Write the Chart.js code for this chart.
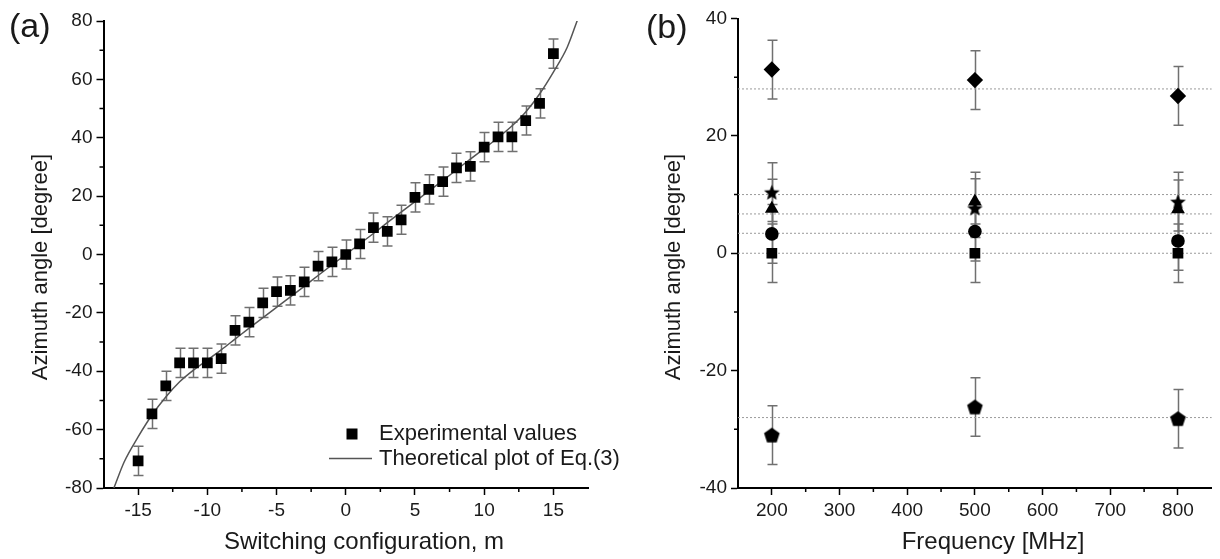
<!DOCTYPE html>
<html>
<head>
<meta charset="utf-8">
<script src="https://cdn.jsdelivr.net/npm/chart.js@4.4.1/dist/chart.umd.min.js"></script>
<style>
  html, body { margin: 0; padding: 0; background: #fff; }
  #wrap { position: relative; width: 1220px; height: 559px; overflow: hidden; }
  #boxA { position: absolute; left: 0; top: 0; width: 640px; height: 559px; }
  #boxB { position: absolute; left: 610px; top: 0; width: 610px; height: 559px; }
</style>
</head>
<body>
<div id="wrap">
  <div id="boxA"><canvas id="chartA"></canvas></div>
  <div id="boxB"><canvas id="chartB"></canvas></div>
</div>
<script>
/* DONNÉES (a) : configuration de commutation m */
const mValues = [-15, -14, -13, -12, -11, -10, -9, -8, -7, -6, -5, -4, -3, -2, -1, 0,
  1, 2, 3, 4, 5, 6, 7, 8, 9, 10, 11, 12, 13, 14, 15];
const expAngles = [-70.7, -54.6, -45.0, -37.1, -37.1, -37.1, -35.7, -26.0, -23.2, -16.6, -12.7, -12.3, -9.4, -4.0, -2.5, 0,
  3.6, 9.2, 7.9, 11.9, 19.6, 22.3, 25.0, 29.7, 30.2, 36.8, 40.3, 40.3, 45.9, 51.8, 68.8];
const expErrors = [5, 5, 5, 5, 5, 5, 5, 5, 5, 5, 5, 5, 5, 5, 5, 5,
  5, 5, 5, 5, 5, 5, 5, 5, 5, 5, 5, 5, 5, 5, 5];

// courbe théorique
const theoM = [-16.75, -16, -15, -14, -13, -12, -11, -10, -9, -8, -7, -6, -5, -4, -3, -2, -1, 0,
  1, 2, 3, 4, 5, 6, 7, 8, 9, 10, 11, 12, 13, 14, 15, 16, 16.75];
const theoAngles = [-80, -71, -62.5, -55, -48.8, -43.6, -39.6, -36.2, -32.7, -29, -25.3, -21.7, -18.1, -14.5, -10.9, -7.2, -3.6, 0,
  3.6, 7.2, 10.9, 14.5, 18.1, 21.7, 25.3, 29, 32.7, 36.3, 40, 44, 48.8, 55, 62.5, 71, 80.5];

/* DONNÉES (b) : fréquence */
const freqs = [200, 500, 800];
const squareAngles = [0, 0, 0];
const circleAngles = [3.3, 3.7, 2.1];
const triangleAngles = [7.6, 8.8, 7.5];
const starAngles = [10.4, 7.7, 8.8];
const diamondAngles = [31.3, 29.5, 26.8];
const pentagonAngles = [-31.0, -26.2, -28.2];
const freqErrors = [5, 5, 5];
const refLevels = [28, 10, 6.7, 3.4, 0, -28];

const FONT = "'Liberation Sans', Arial, sans-serif";
const TXT = '#1a1a1a';
Chart.defaults.font.family = FONT;
Chart.defaults.color = TXT;
Chart.defaults.animation = false;

const toPts = (xs, ys) => xs.map((x, i) => ({ x, y: ys[i] }));

/* MARQUEURS PERSONNALISÉS (étoile, pentagone) */
function polyMarker(n, rOut, rIn) {
  const size = Math.ceil(rOut * 2) + 2;
  const c = document.createElement('canvas');
  c.width = c.height = size;
  const g = c.getContext('2d');
  g.translate(size / 2, size / 2 + (rIn ? 0.8 : 0.6));
  g.beginPath();
  const count = rIn ? n * 2 : n;
  for (let i = 0; i < count; i++) {
    const r = rIn && i % 2 ? rIn : rOut;
    const a = -Math.PI / 2 + i * 2 * Math.PI / count;
    g.lineTo(r * Math.cos(a), r * Math.sin(a));
  }
  g.closePath();
  g.fillStyle = '#000';
  g.fill();
  return c;
}
const starImg = polyMarker(5, 8.2, 3.6);
const pentaImg = polyMarker(5, 8.2);

/* PLUGINS */
// barres d'erreur, dessinées sous les marqueurs
const errorBars = {
  id: 'errorBars',
  beforeDatasetsDraw(chart) {
    const { ctx, scales: { x, y } } = chart;
    ctx.save();
    ctx.strokeStyle = '#707070';
    ctx.lineWidth = 1.5;
    chart.data.datasets.forEach((ds) => {
      if (!ds.errors) return;
      ds.data.forEach((p, i) => {
        const px = Math.round(x.getPixelForValue(p.x)) + 0.5;
        const top = y.getPixelForValue(p.y + ds.errors[i]);
        const bot = y.getPixelForValue(p.y - ds.errors[i]);
        ctx.beginPath();
        ctx.moveTo(px, top); ctx.lineTo(px, bot);
        ctx.moveTo(px - 5, top); ctx.lineTo(px + 5, top);
        ctx.moveTo(px - 5, bot); ctx.lineTo(px + 5, bot);
        ctx.stroke();
      });
    });
    ctx.restore();
  },
};

// petites graduations secondaires
function minorTicks(xMajor, yMajor) {
  return {
    id: 'minorTicks',
    afterDraw(chart) {
      const { ctx, scales: { x, y } } = chart;
      ctx.save();
      ctx.strokeStyle = '#000';
      ctx.lineWidth = 1.5;
      ctx.beginPath();
      x.ticks.forEach((t) => {
        if (t.value % xMajor === 0 || t.value <= x.min || t.value >= x.max) return;
        const px = x.getPixelForValue(t.value);
        ctx.moveTo(px, x.top); ctx.lineTo(px, x.top + 4);
      });
      y.ticks.forEach((t) => {
        if (t.value % yMajor === 0 || t.value <= y.min || t.value >= y.max) return;
        const py = y.getPixelForValue(t.value);
        ctx.moveTo(y.right, py); ctx.lineTo(y.right - 4, py);
      });
      ctx.stroke();
      ctx.restore();
    },
  };
}

// titres d'axes et étiquettes (a)/(b)
function textLabels(items) {
  return {
    id: 'textLabels',
    afterDraw(chart) {
      const ctx = chart.ctx;
      items.forEach((it) => {
        ctx.save();
        ctx.font = it.font;
        ctx.fillStyle = TXT;
        ctx.textAlign = it.align || 'center';
        ctx.textBaseline = 'middle';
        ctx.translate(it.x, it.y);
        if (it.rotate) ctx.rotate(-Math.PI / 2);
        ctx.fillText(it.text, 0, 0);
        ctx.restore();
      });
    },
  };
}

// légende interne du graphique (a)
const legendA = {
  id: 'legendA',
  afterDraw(chart) {
    const ctx = chart.ctx;
    const [exp, theo] = chart.data.datasets;
    ctx.save();
    ctx.fillStyle = '#000';
    ctx.fillRect(346.5, 428.5, 11, 11);
    ctx.strokeStyle = theo.borderColor;
    ctx.lineWidth = 1.5;
    ctx.beginPath();
    ctx.moveTo(329, 458.5); ctx.lineTo(372, 458.5);
    ctx.stroke();
    ctx.font = '22px ' + FONT;
    ctx.fillStyle = TXT;
    ctx.textBaseline = 'middle';
    ctx.fillText(exp.label, 379, 434);
    ctx.fillText(theo.label, 379, 459);
    ctx.restore();
  },
};

function axisScale(min, max, step, major, tickSize) {
  return {
    type: 'linear',
    min, max,
    ticks: {
      stepSize: step,
      autoSkip: false,
      maxRotation: 0,
      padding: 4,
      font: { size: 19 },
      color: TXT,
      callback: (v) => (v % major === 0 ? String(v) : ''),
    },
    grid: {
      drawOnChartArea: false,
      tickLength: 7,
      tickWidth: 1.5,
      tickColor: (c) => (c.tick && c.tick.value % major === 0 ? '#000' : 'rgba(0,0,0,0)'),
    },
    border: { color: '#000', width: 2 },
    afterFit: tickSize,
  };
}

/* GRAPHIQUE (a) */
new Chart(document.getElementById('chartA'), {
  type: 'scatter',
  data: {
    datasets: [
      {
        label: 'Experimental values',
        data: toPts(mValues, expAngles),
        errors: expErrors,
        pointStyle: 'rect',
        pointRadius: 7.6,
        pointHoverRadius: 7.6,
        backgroundColor: '#000',
        borderWidth: 0,
        order: 0,
      },
      {
        type: 'line',
        label: 'Theoretical plot of Eq.(3)',
        data: toPts(theoM, theoAngles),
        borderColor: '#555',
        borderWidth: 1.5,
        pointRadius: 0,
        cubicInterpolationMode: 'monotone',
        fill: false,
        order: 1,
      },
    ],
  },
  options: {
    responsive: true,
    maintainAspectRatio: false,
    layout: { padding: { top: 21, right: 52, left: 0, bottom: 0 } },
    plugins: { legend: { display: false }, tooltip: { enabled: false } },
    scales: {
      x: axisScale(-17.5, 17.5, 2.5, 5, (s) => { s.height = 71; }),
      y: axisScale(-80, 80, 10, 20, (s) => { s.width = 103.5; }),
    },
  },
  plugins: [
    errorBars,
    minorTicks(5, 20),
    legendA,
    textLabels([
      { text: '(a)', x: 9, y: 28, font: '34px ' + FONT, align: 'left' },
      { text: 'Azimuth angle [degree]', x: 41, y: 267, font: '22px ' + FONT, rotate: true },
      { text: 'Switching configuration, m', x: 364, y: 542, font: '24px ' + FONT },
    ]),
  ],
});

/* GRAPHIQUE (b) */
const refDatasets = refLevels.map((lv) => ({
  type: 'line',
  data: [{ x: 150, y: lv }, { x: 850, y: lv }],
  borderColor: '#9a9a9a',
  borderWidth: 1,
  borderDash: [2, 2],
  pointRadius: 0,
  order: 10,
}));

function markerSet(label, ys, style, radius) {
  return {
    label,
    data: toPts(freqs, ys),
    errors: freqErrors,
    pointStyle: style,
    pointRadius: radius,
    pointHoverRadius: radius,
    backgroundColor: '#000',
    borderColor: '#000',
    borderWidth: 0,
    order: 0,
  };
}

new Chart(document.getElementById('chartB'), {
  type: 'scatter',
  data: {
    datasets: [
      ...refDatasets,
      markerSet('square', squareAngles, 'rect', 7.6),
      markerSet('circle', circleAngles, 'circle', 6.8),
      markerSet('triangle', triangleAngles, 'triangle', 8),
      markerSet('star', starAngles, starImg, 8),
      markerSet('diamond', diamondAngles, 'rectRot', 8.2),
      markerSet('pentagon', pentagonAngles, pentaImg, 8),
    ],
  },
  options: {
    responsive: true,
    maintainAspectRatio: false,
    layout: { padding: { top: 18.5, right: 1, left: 0, bottom: 0 } },
    plugins: { legend: { display: false }, tooltip: { enabled: false } },
    scales: {
      x: axisScale(150, 850, 50, 100, (s) => { s.height = 71; }),
      y: axisScale(-40, 40, 10, 20, (s) => { s.width = 128; }),
    },
  },
  plugins: [
    errorBars,
    minorTicks(100, 20),
    textLabels([
      { text: '(b)', x: 36, y: 29, font: '34px ' + FONT, align: 'left' },
      { text: 'Azimuth angle [degree]', x: 64, y: 267, font: '22px ' + FONT, rotate: true },
      { text: 'Frequency [MHz]', x: 383, y: 542, font: '24px ' + FONT },
    ]),
  ],
});
</script>
</body>
</html>
